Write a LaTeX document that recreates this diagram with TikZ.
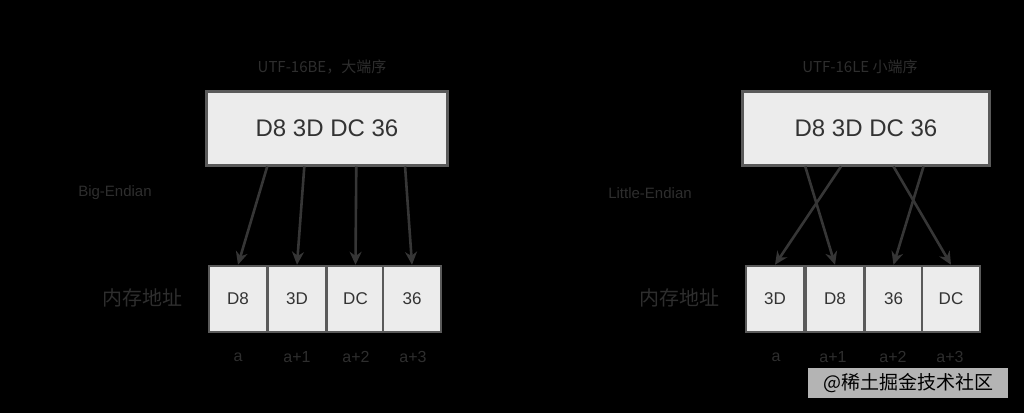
\documentclass[tikz,border=0pt]{standalone}
\usepackage{fontspec}
\setmainfont{Liberation Sans}
\newfontfamily\cjk{Noto Sans CJK SC}
\usetikzlibrary{calc,arrows.meta}
\definecolor{bg}{HTML}{000000}
\definecolor{boxfill}{HTML}{ECECEC}
\definecolor{boxline}{HTML}{5A5A5A}
\definecolor{ink}{HTML}{333333}
\definecolor{lbl}{HTML}{2E2E2E}
\definecolor{wire}{HTML}{363636}
\definecolor{wmfill}{HTML}{B4B4B4}
\tikzset{
  valbox/.style={draw=boxline, line width=3pt, fill=boxfill, text=ink,
    minimum width=241pt, minimum height=74pt, inner sep=0pt,
    font=\fontsize{24}{28}\selectfont},
  cell/.style={draw=boxline, line width=2.5pt, fill=boxfill, text=ink,
    minimum width=58pt, minimum height=66pt, inner sep=0pt,
    font=\fontsize{17}{20}\selectfont},
  lab/.style={text=lbl, inner sep=0pt, font=\cjk\fontsize{15}{18}\selectfont},
  addr/.style={text=lbl, inner sep=0pt, font=\fontsize{16}{18}\selectfont},
  link/.style={draw=wire, line width=2.6pt, -{Stealth[length=13pt,width=12pt]}},
}
\begin{document}
\begin{tikzpicture}[x=1pt,y=-1pt]
\fill[bg] (0,0) rectangle (1024,413);
\useasboundingbox (0,0) rectangle (1024,413);

% ---------- left : big endian ----------
\node[lab] (tlL) at (322,67) {UTF-16BE，大端序};
\node[valbox] (vL) at (327,128) {D8 3D DC 36};
\node[lab,font=\fontsize{15}{18}\selectfont] (mL) at (115,193) {Big-Endian};
\node[lab,font=\cjk\fontsize{20}{22}\selectfont] (memL) at (142,298) {内存地址};
\node[cell] (l1) at (238,299) {D8};
\node[cell] (l2) at (297,299) {3D};
\node[cell] (l3) at (355.5,299) {DC};
\node[cell] (l4) at (412,299) {36};
\node[addr] (al1) at (238,357) {a};
\node[addr] (al2) at (297,357) {a+1};
\node[addr] (al3) at (356,357) {a+2};
\node[addr] (al4) at (413,357) {a+3};
\draw[link] ($(vL.south west)!0.255!(vL.south east)$) -- (l1.north);
\draw[link] ($(vL.south west)!0.407!(vL.south east)$) -- (l2.north);
\draw[link] ($(vL.south west)!0.62!(vL.south east)$) -- (l3.north);
\draw[link] ($(vL.south west)!0.82!(vL.south east)$) -- (l4.north);

% ---------- right : little endian ----------
\node[lab] (tlR) at (860,67) {UTF-16LE 小端序};
\node[valbox,minimum width=247pt] (vR) at (866,128) {D8 3D DC 36};
\node[lab,font=\fontsize{15}{18}\selectfont] (mR) at (650,193) {Little-Endian};
\node[lab,font=\cjk\fontsize{20}{22}\selectfont] (memR) at (679,298) {内存地址};
\node[cell] (r1) at (775,299) {3D};
\node[cell] (r2) at (835,299) {D8};
\node[cell] (r3) at (893.5,299) {36};
\node[cell] (r4) at (951,299) {DC};
\node[addr] (ar1) at (776,357) {a};
\node[addr] (ar2) at (833,357) {a+1};
\node[addr] (ar3) at (893,357) {a+2};
\node[addr] (ar4) at (950,357) {a+3};
\draw[link] ($(vR.south west)!0.257!(vR.south east)$) -- (r2.north);
\draw[link] ($(vR.south west)!0.40!(vR.south east)$) -- (r1.north);
\draw[link] ($(vR.south west)!0.61!(vR.south east)$) -- (r4.north);
\draw[link] ($(vR.south west)!0.73!(vR.south east)$) -- (r3.north);

% ---------- watermark ----------
\node[fill=wmfill, text=black, inner sep=2pt, minimum width=200pt, minimum height=30pt,
  font=\cjk\fontsize{19}{22}\selectfont] (wm) at (908,383) {@稀土掘金技术社区};
\end{tikzpicture}
\end{document}
